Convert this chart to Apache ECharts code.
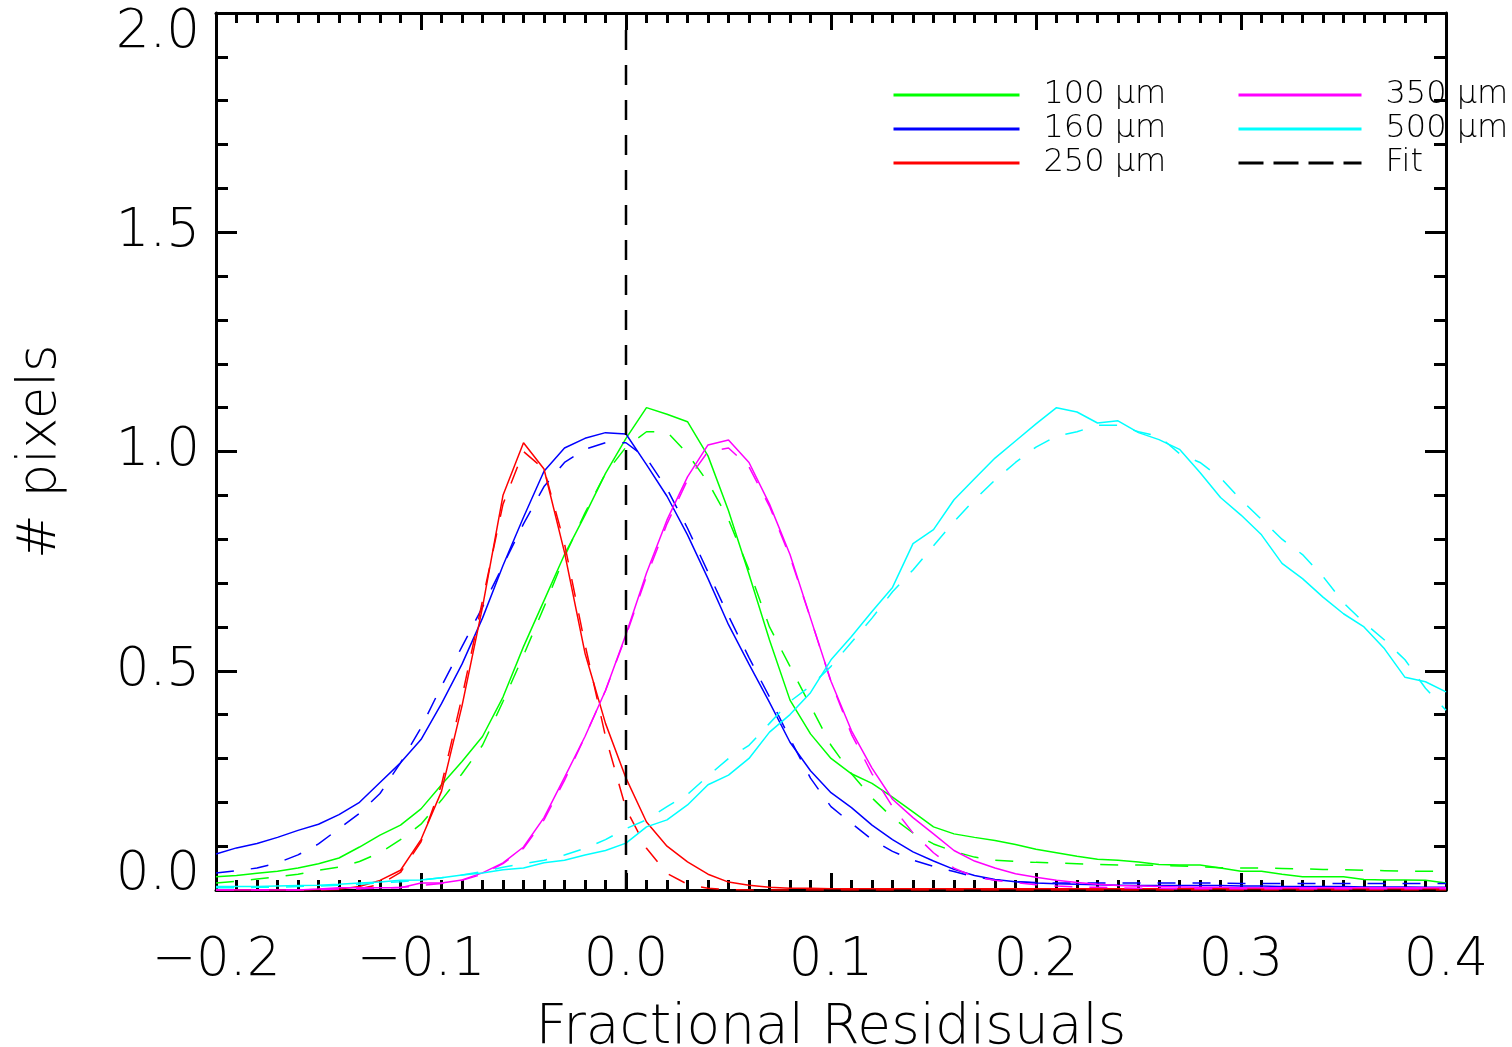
<!DOCTYPE html>
<html><head><meta charset="utf-8">
<script src="https://cdn.jsdelivr.net/npm/echarts@6/dist/echarts.min.js"></script>
<style>html,body{margin:0;padding:0;background:#fff}#c{width:1512px;height:1047px}</style>
</head><body><div id="c"></div>
<script>
// x grid (Fractional Residuals)
const xs = [-0.20,-0.19,-0.18,-0.17,-0.16,-0.15,-0.14,-0.13,-0.12,-0.11,
  -0.10,-0.09,-0.08,-0.07,-0.06,-0.05,-0.04,-0.03,-0.02,-0.01,
  0.00,0.01,0.02,0.03,0.04,0.05,0.06,0.07,0.08,0.09,
  0.10,0.11,0.12,0.13,0.14,0.15,0.16,0.17,0.18,0.19,
  0.20,0.21,0.22,0.23,0.24,0.25,0.26,0.27,0.28,0.29,
  0.30,0.31,0.32,0.33,0.34,0.35,0.36,0.37,0.38,0.39,0.40];

const obs100 = [0.030,0.033,0.038,0.043,0.050,0.060,0.073,0.098,0.125,0.148,
  0.185,0.240,0.293,0.350,0.440,0.555,0.660,0.765,0.855,0.950,
  1.030,1.100,1.085,1.068,0.990,0.865,0.720,0.570,0.433,0.356,
  0.300,0.265,0.243,0.212,0.178,0.144,0.128,0.120,0.113,0.104,
  0.093,0.085,0.077,0.070,0.068,0.064,0.058,0.057,0.057,0.050,
  0.043,0.043,0.036,0.030,0.030,0.030,0.024,0.023,0.023,0.022,0.016];
const fit100 = [0.016,0.020,0.025,0.030,0.036,0.045,0.052,0.065,0.085,0.115,
  0.150,0.205,0.265,0.330,0.430,0.535,0.645,0.760,0.860,0.950,
  1.010,1.045,1.045,0.995,0.930,0.845,0.730,0.600,0.510,0.420,
  0.330,0.265,0.210,0.165,0.130,0.105,0.088,0.075,0.068,0.065,
  0.063,0.062,0.060,0.058,0.057,0.057,0.056,0.055,0.053,0.051,
  0.050,0.050,0.049,0.048,0.047,0.046,0.045,0.044,0.043,0.043,0.043];

const obs160 = [0.082,0.096,0.106,0.120,0.136,0.150,0.172,0.200,0.245,0.290,
  0.343,0.425,0.515,0.620,0.740,0.850,0.955,1.008,1.030,1.043,
  1.040,0.970,0.898,0.810,0.710,0.605,0.515,0.428,0.337,0.272,
  0.222,0.188,0.148,0.115,0.087,0.066,0.047,0.033,0.024,0.019,
  0.016,0.014,0.013,0.012,0.011,0.010,0.010,0.010,0.010,0.010,
  0.009,0.009,0.008,0.008,0.008,0.008,0.007,0.007,0.007,0.006,0.006];
const fit160 = [0.039,0.044,0.050,0.062,0.080,0.105,0.140,0.175,0.220,0.290,
  0.370,0.465,0.555,0.645,0.740,0.835,0.920,0.975,1.005,1.020,
  1.020,0.985,0.915,0.825,0.725,0.625,0.530,0.440,0.345,0.255,
  0.190,0.152,0.115,0.088,0.068,0.054,0.042,0.030,0.023,0.019,
  0.017,0.016,0.016,0.016,0.016,0.016,0.016,0.016,0.016,0.016,
  0.015,0.015,0.015,0.015,0.015,0.015,0.015,0.015,0.015,0.015,0.015];

const obs250 = [0.000,0.000,0.000,0.000,0.000,0.001,0.002,0.008,0.022,0.045,
  0.115,0.225,0.420,0.645,0.900,1.020,0.960,0.770,0.540,0.380,
  0.255,0.155,0.100,0.064,0.036,0.018,0.011,0.006,0.004,0.004,
  0.003,0.003,0.003,0.003,0.003,0.003,0.003,0.003,0.003,0.003,
  0.003,0.003,0.003,0.003,0.003,0.003,0.003,0.003,0.003,0.003,
  0.003,0.003,0.003,0.003,0.003,0.003,0.003,0.003,0.003,0.003,0.003];
const fit250 = [0.000,0.000,0.000,0.000,0.000,0.000,0.001,0.003,0.013,0.040,
  0.110,0.240,0.440,0.660,0.880,1.000,0.960,0.790,0.560,0.350,
  0.185,0.095,0.038,0.013,0.004,0.001,0.000,0.000,0.000,0.000,
  0.000,0.000,0.000,0.000,0.000,0.000,0.000,0.000,0.000,0.000,
  0.000,0.000,0.000,0.000,0.000,0.000,0.000,0.000,0.000,0.000,
  0.000,0.000,0.000,0.000,0.000,0.000,0.000,0.000,0.000,0.000,0.000];

const obs350 = [0.000,0.000,0.000,0.000,0.000,0.002,0.005,0.005,0.005,0.005,
  0.016,0.016,0.023,0.039,0.062,0.098,0.165,0.257,0.350,0.455,
  0.583,0.723,0.844,0.942,1.015,1.026,0.975,0.880,0.765,0.620,
  0.476,0.363,0.278,0.207,0.165,0.128,0.090,0.066,0.050,0.037,
  0.029,0.022,0.017,0.013,0.010,0.009,0.008,0.007,0.006,0.006,
  0.005,0.005,0.005,0.005,0.005,0.005,0.005,0.005,0.005,0.005,0.005];
const fit350 = [0.000,0.000,0.000,0.000,0.000,0.001,0.002,0.003,0.004,0.006,
  0.010,0.015,0.022,0.036,0.060,0.095,0.160,0.250,0.350,0.455,
  0.580,0.715,0.835,0.935,1.000,1.008,0.965,0.875,0.760,0.620,
  0.475,0.355,0.265,0.190,0.130,0.085,0.050,0.030,0.022,0.017,
  0.012,0.009,0.007,0.006,0.005,0.004,0.004,0.003,0.003,0.003,
  0.003,0.003,0.003,0.003,0.003,0.003,0.003,0.003,0.003,0.003,0.003];

const obs500 = [0.008,0.008,0.008,0.009,0.010,0.011,0.013,0.016,0.018,0.022,
  0.023,0.028,0.034,0.039,0.046,0.050,0.062,0.068,0.080,0.090,
  0.107,0.144,0.160,0.194,0.240,0.262,0.300,0.360,0.400,0.450,
  0.525,0.578,0.635,0.690,0.790,0.822,0.890,0.938,0.985,1.024,
  1.063,1.100,1.090,1.065,1.070,1.043,1.027,1.005,0.952,0.895,
  0.855,0.810,0.745,0.710,0.668,0.630,0.600,0.550,0.485,0.475,0.452];
const fit500 = [0.005,0.005,0.006,0.006,0.008,0.009,0.011,0.013,0.016,0.019,
  0.023,0.028,0.034,0.042,0.052,0.060,0.068,0.080,0.095,0.115,
  0.140,0.160,0.190,0.218,0.260,0.300,0.330,0.380,0.430,0.465,
  0.510,0.565,0.620,0.680,0.730,0.785,0.840,0.890,0.935,0.975,
  1.010,1.035,1.045,1.060,1.060,1.045,1.035,0.995,0.975,0.940,
  0.890,0.845,0.800,0.765,0.715,0.655,0.610,0.570,0.525,0.460,0.410];

const names = ['100 µm','160 µm','250 µm','350 µm','500 µm'];
const colors = ['#00ff00','#0000ff','#ff0000','#ff00ff','#00ffff'];
const obsList = [obs100, obs160, obs250, obs350, obs500];
const fitList = [fit100, fit160, fit250, fit350, fit500];
const fitLineX = [0, 0];
const fitLineY = [0, 2];
const xTicks = [-0.2,-0.1,0.0,0.1,0.2,0.3,0.4];
const yTicks = [0.0,0.5,1.0,1.5,2.0];

const FONT = 'DejaVu Sans';
const FW = 200;
function pts(v){ return xs.map((x,i)=>[x, v[i]]); }

const series = [];
for (let k = 0; k < 5; k++) {
  series.push({
    name: names[k], type: 'line', data: pts(obsList[k]), symbol: 'none',
    lineStyle: {color: colors[k], width: 1.5}, itemStyle: {color: colors[k]},
    animation: false, z: 2 + k
  });
  series.push({
    name: names[k] + ' fit', type: 'line', data: pts(fitList[k]), symbol: 'none',
    lineStyle: {color: colors[k], width: 1.5, type: [18, 17]}, itemStyle: {color: colors[k]},
    animation: false, z: 2 + k
  });
}
series.push({
  name: 'Fit', type: 'line', data: fitLineX.map((x,i)=>[x, fitLineY[i]]), symbol: 'none',
  lineStyle: {color: '#000', width: 2.5, type: [20, 15]}, itemStyle: {color: '#000'},
  animation: false, z: 10
});

const axisLineStyle = {color: '#000', width: 3};
const fmtX = v => (Math.abs(v) < 1e-9 ? '0.0' : v.toFixed(1).replace('-', '\u2212'));
const labelFont = {fontFamily: FONT, fontWeight: FW, fontSize: 53, color: '#000'};
const fmtY = v => {
  const s = v.toFixed(1);
  if (Math.abs(v - yTicks[0]) < 1e-9) return '{lo|' + s + '}';
  if (Math.abs(v - yTicks[yTicks.length-1]) < 1e-9) return '{hi|' + s + '}';
  return '{mid|' + s + '}';
};
const baseX = {
  type: 'value', min: xTicks[0], max: xTicks[xTicks.length-1], interval: 0.1,
  axisLine: {show: true, onZero: false, lineStyle: axisLineStyle},
  axisTick: {show: true, inside: true, length: 17, lineStyle: {color: '#000', width: 3}},
  minorTick: {show: true, splitNumber: 10, length: 10, lineStyle: {color: '#000', width: 3}},
  splitLine: {show: false}, minorSplitLine: {show: false}
};
const baseY = {
  type: 'value', min: yTicks[0], max: yTicks[yTicks.length-1], interval: 0.5,
  axisLine: {show: true, onZero: false, lineStyle: axisLineStyle},
  axisTick: {show: true, inside: true, length: 21, lineStyle: {color: '#000', width: 3}},
  minorTick: {show: true, splitNumber: 5, length: 12, lineStyle: {color: '#000', width: 3}},
  splitLine: {show: false}, minorSplitLine: {show: false}
};

const legendCommon = {
  orient: 'vertical', selectedMode: false, itemGap: 0, itemHeight: 14, padding: 0,
  lineStyle: {width: 3},
  itemStyle: {opacity: 0, color: 'rgba(0,0,0,0)', borderWidth: 0, borderColor: 'rgba(0,0,0,0)'},
  textStyle: {fontFamily: FONT, fontWeight: FW, fontSize: 32, color: '#000', lineHeight: 34, padding: [0,0,0,19]}
};

const option = {
  backgroundColor: '#fff',
  animation: false,
  grid: {left: 216, right: 66, top: 13, bottom: 157, containLabel: false, outerBoundsMode: 'none'},
  xAxis: [
    Object.assign({}, baseX, {
      position: 'bottom',
      axisLabel: Object.assign({show: true, margin: 45, formatter: fmtX, hideOverlap: false, showMinLabel: true, showMaxLabel: true}, labelFont),
      name: 'Fractional Residisuals', nameLocation: 'middle', nameGap: 111,
      nameTextStyle: {fontFamily: FONT, fontWeight: FW, fontSize: 55, color: '#000'}
    }),
    Object.assign({}, baseX, {position: 'top', axisLabel: {show: false}})
  ],
  yAxis: [
    Object.assign({}, baseY, {
      position: 'left',
      axisLabel: Object.assign({show: true, margin: 16, formatter: fmtY, showMinLabel: true, showMaxLabel: true,
        rich: {
          lo: Object.assign({padding: [0,0,30,0]}, labelFont),
          hi: Object.assign({padding: [40,0,0,0]}, labelFont),
          mid: Object.assign({}, labelFont)
        }}, labelFont),
      name: '# pixels', nameLocation: 'middle', nameGap: 148, nameRotate: 90,
      nameTextStyle: {fontFamily: FONT, fontWeight: FW, fontSize: 53, color: '#000'}
    }),
    Object.assign({}, baseY, {position: 'right', axisLabel: {show: false}})
  ],
  legend: [
    Object.assign({}, legendCommon, {left: 892, top: 78, itemWidth: 126, data: names.slice(0,3)}),
    Object.assign({}, legendCommon, {left: 1237, top: 78, itemWidth: 123,
      data: [names[3], names[4], {name: 'Fit', lineStyle: {type: [25, 10], width: 3, color: '#000'}}]})
  ],
  series: series
};
const chart = echarts.init(document.getElementById('c'));
chart.setOption(option);
</script>
</body></html>
